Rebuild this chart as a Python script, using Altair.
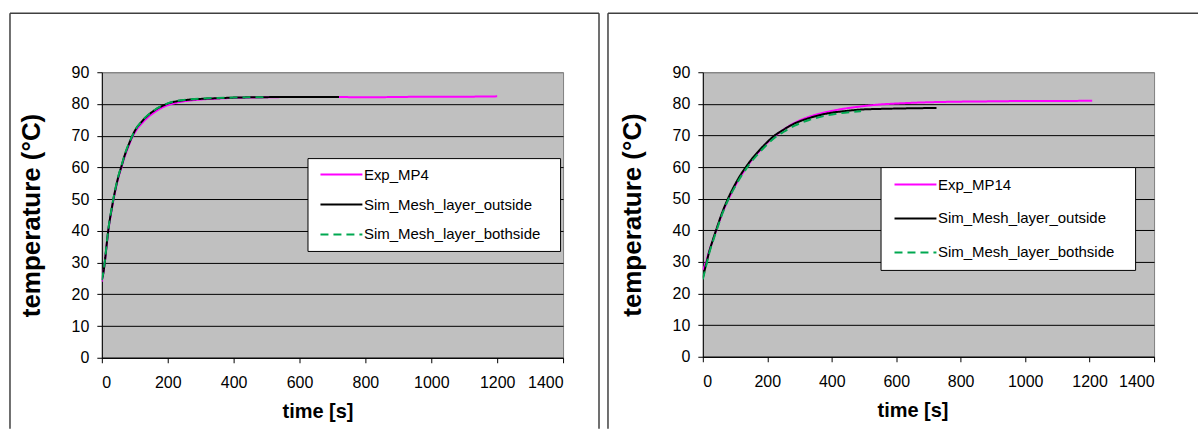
import altair as alt
import pandas as pd

FONT = "Liberation Sans"
BLANK = "\u2800"
OUT = "Sim_Mesh_layer_outside"
BOTH = "Sim_Mesh_layer_bothside"
COLORS = ["#FF00FF", "#000000", "#00A850"]
DASHES = [[1, 0], [1, 0], [8, 5]]
x_ticks = [0, 200, 400, 600, 800, 1000, 1200, 1400]
y_ticks = [0, 10, 20, 30, 40, 50, 60, 70, 80, 90]

# ---- left panel (MP4) ----
mp4_exp_name = "Exp_MP4"
mp4_exp_t = [0, 5, 10, 15, 20, 30, 40, 50, 60, 70, 80, 90, 100, 120, 140, 160, 180, 200, 230, 260, 300,
             350, 400, 450, 500, 600, 700, 800, 900, 1000, 1100, 1200]
mp4_exp_T = [24.0, 27.0, 31.0, 35.8, 40.2, 46.7, 52.2, 56.7, 60.2, 63.6, 66.4, 69.0, 71.0, 73.7, 75.8, 77.4,
             78.7, 79.6, 80.5, 81.0, 81.4, 81.7, 81.9, 82.0, 82.1, 82.2, 82.2, 82.1, 82.2, 82.3, 82.3, 82.4]
mp4_out_t = [0, 5, 10, 15, 20, 30, 40, 50, 60, 70, 80, 90, 100, 120, 140, 160, 180, 200, 230, 260, 300,
             350, 400, 450, 500, 600, 720]
mp4_out_T = [24.5, 27.0, 31.0, 36.0, 40.5, 47.0, 52.5, 57.0, 60.5, 64.0, 66.8, 69.3, 71.5, 74.3, 76.4, 78.0,
             79.2, 80.1, 80.9, 81.3, 81.6, 81.8, 82.0, 82.1, 82.15, 82.2, 82.2]
mp4_both_t = [0, 5, 10, 15, 20, 30, 40, 50, 60, 70, 80, 90, 100, 120, 140, 160, 180, 200, 230, 260, 300,
              350, 400, 450, 500]
mp4_both_T = [24.5, 27.2, 31.3, 36.2, 40.7, 47.2, 52.7, 57.2, 60.7, 64.2, 67.0, 69.4, 71.6, 74.4, 76.5, 78.1,
              79.3, 80.2, 81.0, 81.4, 81.7, 81.9, 82.0, 82.1, 82.1]

# ---- right panel (MP14) ----
mp14_exp_name = "Exp_MP14"
mp14_exp_t = [0, 10, 20, 30, 45, 60, 78, 100, 120, 135, 150, 171, 190, 218, 250, 285, 330, 388, 440, 491,
              550, 600, 700, 800, 900, 1000, 1100, 1208]
mp14_exp_T = [27.5, 30.0, 33.5, 36.5, 41.0, 45.3, 49.5, 54.0, 57.5, 59.8, 62.0, 64.5, 66.7, 69.4, 71.8, 74.0,
              75.9, 77.5, 78.5, 79.2, 79.8, 80.1, 80.5, 80.7, 80.8, 80.9, 80.9, 81.0]
mp14_out_t = [0, 10, 20, 30, 45, 60, 78, 100, 120, 135, 150, 171, 190, 218, 250, 285, 330, 388, 440, 491,
              550, 594, 650, 725]
mp14_out_T = [25.0, 29.2, 33.3, 36.6, 41.2, 45.6, 50.0, 54.5, 58.0, 60.2, 62.3, 64.8, 66.9, 69.6, 71.8, 73.8,
              75.5, 77.0, 77.7, 78.2, 78.4, 78.5, 78.6, 78.7]
mp14_both_t = [0, 10, 20, 30, 45, 60, 78, 100, 120, 135, 150, 171, 190, 218, 250, 285, 330, 388, 440, 491]
mp14_both_T = [24.5, 28.7, 32.8, 36.1, 40.7, 45.1, 49.5, 53.8, 57.3, 59.5, 61.6, 64.1, 66.2, 68.9, 71.1, 73.1,
               74.9, 76.4, 77.2, 77.7]


def frame_df(name, t, T):
    return pd.DataFrame({"time": t, "temp": T, "series": name})


def panel(exp_name, series, width, height, legend_x, legend_y, row_pad, leg_pad, label_tail, title_x, frame):
    domain = [exp_name, OUT, BOTH]
    df = pd.concat([frame_df(n, t, T) for n, t, T in series], ignore_index=True)
    legend = alt.Legend(
        title=None, orient="none", legendX=legend_x, legendY=legend_y, direction="vertical",
        fillColor="white", strokeColor="black", padding=leg_pad, labelFont=FONT, labelFontSize=15,
        labelColor="black", symbolType="M-0.5,0H5.5", symbolSize=196, symbolStrokeWidth=2,
        labelOffset=32, rowPadding=row_pad, labelLimit=400,
        labelExpr="datum.label + '" + label_tail + "'",
    )
    color = alt.Color("series:N", scale=alt.Scale(domain=domain, range=COLORS), legend=legend)
    dash = alt.StrokeDash("series:N", scale=alt.Scale(domain=domain, range=DASHES), legend=legend)
    x = alt.X("time:Q", scale=alt.Scale(domain=[0, 1400], nice=False),
              axis=alt.Axis(title="time [s]", values=x_ticks, format="d", grid=False,
                            labelFontSize=16, titleFontSize=20, labelPadding=12, titlePadding=11,
                            titleX=title_x))
    y = alt.Y("temp:Q", scale=alt.Scale(domain=[0, 90], nice=False),
              axis=alt.Axis(title="temperature (°C)", values=y_ticks, grid=True, labelPadding=8,
                            labelFontSize=16, titleFontSize=26, titlePadding=26.5,
                            gridColor={"condition": {"test": "datum.value == 90", "value": "#808080"},
                                       "value": "black"}))
    layers = []
    for name in domain:
        layers.append(
            alt.Chart(df).transform_filter(alt.datum.series == name)
            .mark_line(strokeWidth=2, clip=True, interpolate="monotone")
            .encode(x=x, y=y, color=color, strokeDash=dash)
        )
    fx, fx2, fy, fy2, right_edge = frame
    one = pd.DataFrame({"k": [0]})
    edges = [
        alt.Chart(one).mark_rule(color="#404040", strokeWidth=1.5)
        .encode(x=alt.value(fx), y=alt.value(fy), y2=alt.value(fy2)),
        alt.Chart(one).mark_rule(color="#404040", strokeWidth=1.5)
        .encode(x=alt.value(fx), x2=alt.value(fx2), y=alt.value(fy)),
    ]
    if right_edge:
        edges.append(
            alt.Chart(one).mark_rule(color="#404040", strokeWidth=1.5)
            .encode(x=alt.value(fx2), y=alt.value(fy), y2=alt.value(fy2))
        )
    return alt.layer(*edges, *layers).properties(width=width, height=height)


left = panel(mp4_exp_name,
             [(mp4_exp_name, mp4_exp_t, mp4_exp_T), (OUT, mp4_out_t, mp4_out_T), (BOTH, mp4_both_t, mp4_both_T)],
             462, 286, 206, 86, 14, 8.5, BLANK, 216, (-92, 498, -59, 357, True))
right = panel(mp14_exp_name,
              [(mp14_exp_name, mp14_exp_t, mp14_exp_T), (OUT, mp14_out_t, mp14_out_T),
               (BOTH, mp14_both_t, mp14_both_T)],
              452, 285, 178, 95, 18, 9.5, BLANK, 210, (-95, 496, -59, 357, False))

chart = alt.hconcat(left, right, spacing=140, bounds="flush").resolve_scale(
    color="independent", strokeDash="independent"
).resolve_legend(color="independent", strokeDash="independent").properties(
    padding={"left": 8, "top": 11, "right": 0, "bottom": 0}, background="white"
).configure_view(
    fill="#C0C0C0", stroke="#808080", strokeWidth=1
).configure_axis(
    domainColor="black", tickColor="black", tickSize=5, labelFont=FONT, labelFontSize=16,
    labelColor="black", titleFont=FONT, titleFontSize=20, titleFontWeight="bold", titleColor="black",
    gridWidth=1, domainWidth=1
)

chart.save("out.html", embed_options={"renderer": "svg", "actions": False})
